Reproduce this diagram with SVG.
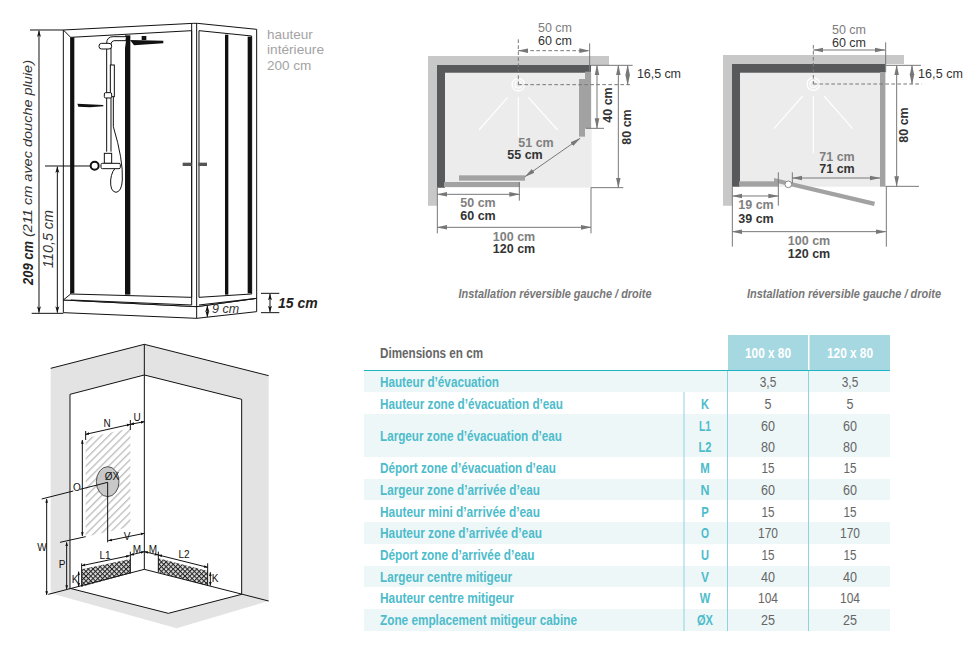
<svg xmlns="http://www.w3.org/2000/svg" width="980" height="646" viewBox="0 0 980 646">
<style>
text{font-family:"Liberation Sans",Arial,sans-serif}
.l{font-size:14px;font-weight:bold;fill:#4dbccb}
.v{font-size:14px;fill:#666;text-anchor:middle}
.c{font-size:14px;font-weight:bold;fill:#4dbccb;text-anchor:middle}
.h{font-size:14px;font-weight:bold;fill:#fff;text-anchor:middle}
.g{font-size:12.5px;fill:#7d7d7d;text-anchor:middle}
.d{font-size:12.5px;fill:#333;text-anchor:middle}
.s{font-size:12.5px;fill:#333}
.gb{font-size:12.5px;font-weight:bold;fill:#808080;text-anchor:middle}
.db{font-size:12.5px;font-weight:bold;fill:#333;text-anchor:middle}
.cap{font-size:12px;font-weight:bold;font-style:italic;fill:#777;text-anchor:middle}
.w{font-size:10px;fill:#111;text-anchor:middle}
.k{fill:none;stroke:#111;stroke-width:3}
.m{fill:none;stroke:#777;stroke-width:3}
.md{fill:none;stroke:#777;stroke-width:3;stroke-dasharray:11 7}
.a{marker-start:url(#ga);marker-end:url(#ga)}
.b{marker-start:url(#ka);marker-end:url(#ka)}
.e{marker-start:url(#kb);marker-end:url(#kb)}
.ray{stroke:#fff;stroke-width:3.5;fill:none}
</style>
<defs>
<marker id="ga" markerUnits="userSpaceOnUse" markerWidth="32" markerHeight="18" viewBox="0 0 32 18" refX="30" refY="9" orient="auto-start-reverse"><path d="M0 2L32 9L0 16z" fill="#777"/></marker>
<marker id="ka" markerUnits="userSpaceOnUse" markerWidth="20" markerHeight="14" viewBox="0 0 20 14" refX="19" refY="7" orient="auto-start-reverse"><path d="M0 1L20 7L0 13L5 7z" fill="#111"/></marker>
<marker id="kb" markerUnits="userSpaceOnUse" markerWidth="12" markerHeight="10" viewBox="0 0 12 10" refX="11" refY="5" orient="auto-start-reverse"><path d="M0 1L12 5L0 9z" fill="#111"/></marker>
<pattern id="hatch" patternUnits="userSpaceOnUse" width="16" height="16" patternTransform="rotate(-45)"><rect width="16" height="16" fill="#fff"/><rect width="16" height="4" fill="#bdbdbd"/></pattern>
<pattern id="cross" patternUnits="userSpaceOnUse" width="10" height="10" patternTransform="rotate(45)"><rect width="10" height="10" fill="#ddd"/><rect width="10" height="3" fill="#222"/><rect width="3" height="10" fill="#222"/></pattern>
</defs>

<g id="cabin" transform="translate(0,10) scale(.33333)">
<g fill="#fff" stroke="#111" stroke-width="3">
<path d="M190 870L590 890L770 865V905L590 925L190 908z"/>
<path d="M190 60L580 40H592L770 58V865L590 890L190 870z"/>
<path d="M212 82L575 62V862L212 852z"/>
<path d="M597 62L755 78V852L597 862z"/>
<path d="M190 60L212 82M212 852L190 870M590 40V925M575 885V40M212 870L575 885M597 885L770 865"/>
</g>
<g fill="#111">
<rect x="212" y="82" width="11" height="768"/>
<rect x="375" y="76" width="16" height="778"/>
<rect x="675" y="74" width="10" height="780"/>
<rect x="743" y="80" width="12" height="770"/>
<path d="M390 90L490 92V100L402 106z"/>
<rect x="425" y="78" width="14" height="12"/>
<path d="M232 281L310 285V289L270 292L235 290z"/>
<rect x="548" y="458" width="27" height="10" fill="#555"/>
<rect x="595" y="458" width="26" height="10" fill="#555"/>
</g>
<g fill="#fff" stroke="#111" stroke-width="3">
<path d="M320 425V100Q320 80 340 80H378"/>
<path d="M333 425V105Q333 92 345 92H378"/>
<rect x="297" y="100" width="38" height="17" rx="8"/>
<rect x="331" y="165" width="12" height="95"/>
<rect x="313" y="248" width="22" height="16" rx="4"/>
<path d="M340 260V350Q370 450 367 510Q365 545 348 547Q330 545 332 510Q335 480 352 470" fill="none"/>
<rect x="313" y="430" width="22" height="30"/>
<rect x="303" y="460" width="58" height="16" rx="4"/>
<circle cx="284" cy="467" r="12" stroke-width="6"/>
</g>
<path class="k" d="M135 468H272M90 60H190M95 910H190M783 850H838M783 908H838"/>
<path class="k b" d="M117 62V908"/>
<path class="k b" d="M172 470V908"/>
<path class="k b" d="M810 852V906"/>
<path class="k b" d="M622 887V921"/>
</g>
<g id="cabin-labels">
<text transform="translate(33,285) rotate(-90)" font-size="14" font-weight="bold" font-style="italic" fill="#222" textLength="44" lengthAdjust="spacingAndGlyphs">209 cm</text>
<text transform="translate(32,237) rotate(-90)" font-size="13.5" font-style="italic" fill="#333" textLength="177" lengthAdjust="spacingAndGlyphs">(211 cm avec douche pluie)</text>
<text transform="translate(53,268) rotate(-90)" font-size="14" font-style="italic" fill="#333" textLength="58" lengthAdjust="spacingAndGlyphs">110,5 cm</text>
<text x="267" y="38.500" font-size="13.500" fill="#a3a3a3">hauteur</text>
<text x="267" y="54" font-size="13.500" fill="#a3a3a3" textLength="57" lengthAdjust="spacingAndGlyphs">intérieure</text>
<text x="267" y="69.500" font-size="13.500" fill="#a3a3a3">200 cm</text>
<text x="278" y="308" font-size="14" font-weight="bold" font-style="italic" fill="#222">15 cm</text>
<text x="212" y="313" font-size="12.5" font-style="italic" fill="#333">9 cm</text>
</g>

<g id="plan-pivot" transform="translate(410,10) scale(.33333)">
<path fill="#c8c8c8" d="M54 138H597V165H81V587H54z"/>
<rect x="105" y="188" width="440" height="345" fill="#ececec"/>
<path fill="#58595b" d="M81 165H543V188H105V533H81z"/>
<g fill="#a2a2a2">
<rect x="525" y="185" width="18" height="170"/>
<rect x="507" y="207" width="18" height="173"/>
<rect x="102" y="516" width="228" height="15"/>
<rect x="147" y="496" width="198" height="16"/>
</g>
<g class="ray"><circle cx="325" cy="224" r="19" stroke-width="4"/><circle cx="325" cy="224" r="10"/><path d="M293 262L207 360M325 262V380M355 262L443 360"/></g>
<path class="md" d="M325 88V224M325 224H665"/>
<path class="md a" d="M325 122H538"/>
<path class="m" d="M539 100V185M543 166H668M527 355H582M543 533H640M82 533V670M328 516V572M543 533V670"/>
<path class="m a" d="M653 166V224"/>
<path class="m a" d="M561 166V355"/>
<path class="m a" d="M625 166V533"/>
<path class="m a" d="M510 385L345 500"/>
<path class="m a" d="M82 553H328"/>
<path class="m a" d="M82 652H543"/>
</g>
<g id="plan-pivot-labels">
<text class="g" x="555" y="32">50 cm</text><text class="d" x="555" y="44.500">60 cm</text>
<text class="s" x="637" y="78" textLength="44">16,5 cm</text>
<text class="db" transform="translate(612,105) rotate(-90)">40 cm</text>
<text class="db" transform="translate(631,127) rotate(-90)">80 cm</text>
<text class="gb" x="536" y="147">51 cm</text><text class="db" x="525" y="159">55 cm</text>
<text class="gb" x="478" y="207">50 cm</text><text class="db" x="478" y="220">60 cm</text>
<text class="gb" x="514" y="240.500">100 cm</text><text class="db" x="514" y="253">120 cm</text>
<text class="cap" x="555" y="298" textLength="193" lengthAdjust="spacingAndGlyphs">Installation réversible gauche / droite</text>
</g>

<g id="plan-swing" transform="translate(700,10) scale(.33333)">
<path fill="#c8c8c8" d="M69 135H612V162H96V587H69z"/>
<rect x="120" y="188" width="436" height="342" fill="#ececec"/>
<path fill="#58595b" d="M96 162H556V188H120V530H96z"/>
<g fill="#a2a2a2">
<rect x="540" y="186" width="16" height="344"/>
<rect x="117" y="514" width="118" height="16"/>
<path d="M222 504L525 575L522 588L222 517z"/>
</g>
<g class="ray"><circle cx="340" cy="222" r="19" stroke-width="4"/><circle cx="340" cy="222" r="10"/><path d="M308 258L222 356M340 258V430M372 258L458 356"/></g>
<circle cx="265" cy="523" r="10" fill="#fff" stroke="#888" stroke-width="3"/>
<path class="md" d="M340 105V222M340 222H665"/>
<path class="m a" d="M340 120H555"/>
<path class="m" d="M557 97V186M556 166H663M556 529H657M97 530V710M559 530V710M235 487V587M277 487V520"/>
<path class="m a" d="M636 166V222"/>
<path class="m a" d="M590 166V529"/>
<path class="m a" d="M277 504H540"/>
<path class="m a" d="M97 558H235"/>
<path class="m a" d="M97 665H557"/>
</g>
<g id="plan-swing-labels">
<text class="g" x="849" y="33.500">50 cm</text><text class="d" x="849" y="47">60 cm</text>
<text class="s" x="918" y="78" textLength="45">16,5 cm</text>
<text class="db" transform="translate(908,125) rotate(-90)">80 cm</text>
<text class="gb" x="837" y="160.500">71 cm</text><text class="db" x="837" y="173">71 cm</text>
<text class="gb" x="756" y="209">19 cm</text><text class="db" x="756" y="223">39 cm</text>
<text class="gb" x="809" y="245">100 cm</text><text class="db" x="809" y="258">120 cm</text>
<text class="cap" x="844" y="298" textLength="194" lengthAdjust="spacingAndGlyphs">Installation réversible gauche / droite</text>
</g>

<g id="wall" transform="translate(20,335) scale(.33333)">
<path fill="#e3e3e3" d="M92 100L373 28L746 122V798L470 880L92 775z"/>
<path fill="#fff" d="M150 178L373 120L665 193V778L445 835L150 760z"/>
<path d="M197 310L331 280V575L197 605z" fill="url(#hatch)"/>
<ellipse cx="263" cy="440" rx="34" ry="45" fill="#c8c8c8" stroke="#111" stroke-width="2"/>
<path d="M185 703L331 672V715L185 755z" fill="url(#cross)"/>
<path d="M415 670L563 708V752L415 712z" fill="url(#cross)"/>
<path class="k" d="M92 100L373 28L746 122M150 178L373 120L665 193M150 178V762M373 28V703M665 193V778M85 778L373 703L746 798M150 760L445 835L665 778"/>
<path class="k" d="M65 492L160 468M180 463L263 442V622M120 622L197 605M185 685V755M331 650V715M415 650V712M563 685V752M197 288V315M331 255V285"/>
<path class="k e" d="M80 492V780"/>
<path class="k e" d="M140 622V762"/>
<path class="k e" d="M187 315V603"/>
<path class="k e" d="M197 298L331 268"/>
<path class="k e" d="M331 268L373 260"/>
<path class="k e" d="M265 617L373 595"/>
<path class="k e" d="M185 692L329 662"/>
<path class="k e" d="M331 660L373 650"/>
<path class="k e" d="M373 650L415 660"/>
<path class="k e" d="M415 660L563 697"/>
<path class="k e" d="M176 710V755"/>
<path class="k e" d="M571 712V752"/>
</g>
<g id="wall-labels">
<text class="w" x="107" y="427">N</text><text class="w" x="137" y="421">U</text>
<text class="w" x="112" y="480">ØX</text><text class="w" x="77" y="491">O</text>
<text class="w" x="127" y="540">V</text><text class="w" x="42" y="551">W</text>
<text class="w" x="62" y="568">P</text><text class="w" x="75" y="583">K</text>
<text class="w" x="105" y="559">L1</text><text class="w" x="137" y="553">M</text>
<text class="w" x="153" y="553">M</text><text class="w" x="184" y="558">L2</text>
<text class="w" x="215" y="582">K</text>
</g>

<g id="table">
<g fill="#edf7f8">
<rect x="364" y="371" width="526" height="21"/>
<rect x="364" y="414" width="526" height="43"/>
<rect x="364" y="479" width="526" height="21"/>
<rect x="364" y="522" width="526" height="22"/>
<rect x="364" y="566" width="526" height="21"/>
<rect x="364" y="609" width="526" height="22"/>
</g>
<rect x="728" y="335" width="80" height="35" fill="#a6d8e2"/>
<rect x="809.500" y="335" width="80.500" height="35" fill="#a6d8e2"/>
<path d="M364 370.500H890" stroke="#1fb3c6" stroke-width="1" fill="none"/>
<path d="M684 392V631M727.500 371V631M808.500 371V631" stroke="#8fd3df" stroke-width="1" fill="none"/>
<text x="380" y="358" font-size="14" font-weight="bold" fill="#666" textLength="103" lengthAdjust="spacingAndGlyphs">Dimensions en cm</text>
<text class="h" x="768" y="358" textLength="46" lengthAdjust="spacingAndGlyphs">100 x 80</text>
<text class="h" x="850" y="358" textLength="46" lengthAdjust="spacingAndGlyphs">120 x 80</text>

<text class="l" x="380" y="387" textLength="119" lengthAdjust="spacingAndGlyphs">Hauteur d’évacuation</text>
<text class="v" x="768" y="387" textLength="16.500" lengthAdjust="spacingAndGlyphs">3,5</text><text class="v" x="850" y="387" textLength="16.500" lengthAdjust="spacingAndGlyphs">3,5</text>
<text class="l" x="380" y="409" textLength="183" lengthAdjust="spacingAndGlyphs">Hauteur zone d’évacuation d’eau</text>
<text class="c" x="705" y="409" textLength="8" lengthAdjust="spacingAndGlyphs">K</text>
<text class="v" x="768" y="409" textLength="7" lengthAdjust="spacingAndGlyphs">5</text><text class="v" x="850" y="409" textLength="7" lengthAdjust="spacingAndGlyphs">5</text>
<text class="l" x="380" y="441" textLength="182" lengthAdjust="spacingAndGlyphs">Largeur zone d’évacuation d’eau</text>
<text class="c" x="705" y="431" textLength="12" lengthAdjust="spacingAndGlyphs">L1</text>
<text class="v" x="768" y="431" textLength="14" lengthAdjust="spacingAndGlyphs">60</text><text class="v" x="850" y="431" textLength="14" lengthAdjust="spacingAndGlyphs">60</text>
<text class="c" x="705" y="452" textLength="13" lengthAdjust="spacingAndGlyphs">L2</text>
<text class="v" x="768" y="452" textLength="14" lengthAdjust="spacingAndGlyphs">80</text><text class="v" x="850" y="452" textLength="14" lengthAdjust="spacingAndGlyphs">80</text>
<text class="l" x="380" y="473" textLength="176" lengthAdjust="spacingAndGlyphs">Déport zone d’évacuation d’eau</text>
<text class="c" x="705" y="473" textLength="9.500" lengthAdjust="spacingAndGlyphs">M</text>
<text class="v" x="768" y="473" textLength="13" lengthAdjust="spacingAndGlyphs">15</text><text class="v" x="850" y="473" textLength="13" lengthAdjust="spacingAndGlyphs">15</text>
<text class="l" x="380" y="495" textLength="160" lengthAdjust="spacingAndGlyphs">Largeur zone d’arrivée d’eau</text>
<text class="c" x="705" y="495" textLength="9" lengthAdjust="spacingAndGlyphs">N</text>
<text class="v" x="768" y="495" textLength="14" lengthAdjust="spacingAndGlyphs">60</text><text class="v" x="850" y="495" textLength="14" lengthAdjust="spacingAndGlyphs">60</text>
<text class="l" x="380" y="517" textLength="160" lengthAdjust="spacingAndGlyphs">Hauteur mini d’arrivée d’eau</text>
<text class="c" x="705" y="517" textLength="7.500" lengthAdjust="spacingAndGlyphs">P</text>
<text class="v" x="768" y="517" textLength="13" lengthAdjust="spacingAndGlyphs">15</text><text class="v" x="850" y="517" textLength="13" lengthAdjust="spacingAndGlyphs">15</text>
<text class="l" x="380" y="538" textLength="162" lengthAdjust="spacingAndGlyphs">Hauteur zone d’arrivée d’eau</text>
<text class="c" x="705" y="538" textLength="8" lengthAdjust="spacingAndGlyphs">O</text>
<text class="v" x="768" y="538" textLength="20" lengthAdjust="spacingAndGlyphs">170</text><text class="v" x="850" y="538" textLength="20" lengthAdjust="spacingAndGlyphs">170</text>
<text class="l" x="380" y="560" textLength="154.500" lengthAdjust="spacingAndGlyphs">Déport zone d’arrivée d’eau</text>
<text class="c" x="705" y="560" textLength="8" lengthAdjust="spacingAndGlyphs">U</text>
<text class="v" x="768" y="560" textLength="13" lengthAdjust="spacingAndGlyphs">15</text><text class="v" x="850" y="560" textLength="13" lengthAdjust="spacingAndGlyphs">15</text>
<text class="l" x="380" y="582" textLength="132" lengthAdjust="spacingAndGlyphs">Largeur centre mitigeur</text>
<text class="c" x="705" y="582" textLength="8" lengthAdjust="spacingAndGlyphs">V</text>
<text class="v" x="768" y="582" textLength="14" lengthAdjust="spacingAndGlyphs">40</text><text class="v" x="850" y="582" textLength="14" lengthAdjust="spacingAndGlyphs">40</text>
<text class="l" x="380" y="603" textLength="134" lengthAdjust="spacingAndGlyphs">Hauteur centre mitigeur</text>
<text class="c" x="705" y="603" textLength="10.500" lengthAdjust="spacingAndGlyphs">W</text>
<text class="v" x="768" y="603" textLength="20" lengthAdjust="spacingAndGlyphs">104</text><text class="v" x="850" y="603" textLength="20" lengthAdjust="spacingAndGlyphs">104</text>
<text class="l" x="380" y="625" textLength="197" lengthAdjust="spacingAndGlyphs">Zone emplacement mitigeur cabine</text>
<text class="c" x="705" y="625" textLength="16" lengthAdjust="spacingAndGlyphs">ØX</text>
<text class="v" x="768" y="625" textLength="14" lengthAdjust="spacingAndGlyphs">25</text><text class="v" x="850" y="625" textLength="14" lengthAdjust="spacingAndGlyphs">25</text>
</g>
</svg>
